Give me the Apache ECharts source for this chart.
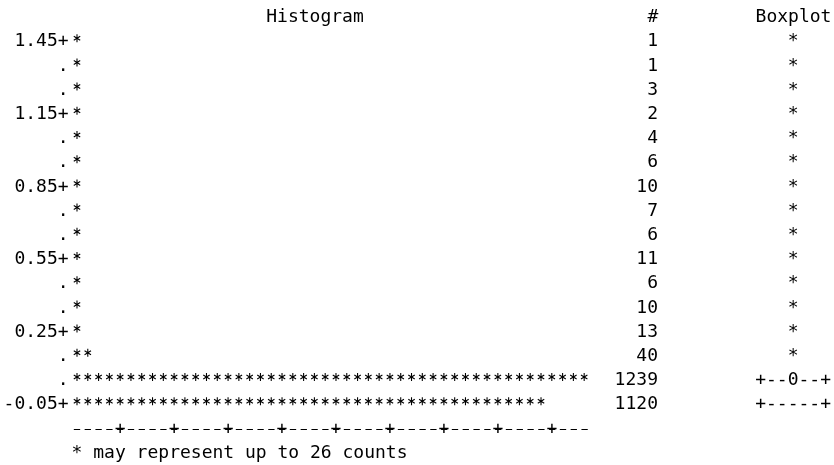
<!DOCTYPE html>
<html>
<head>
<meta charset="utf-8">
<script src="https://cdn.jsdelivr.net/npm/echarts@6/dist/echarts.min.js"></script>
<style>
html,body{margin:0;padding:0;background:#fff;}
#chart{width:834px;height:465px;}
</style>
</head>
<body>
<div id="chart"></div>
<script>
// bin midpoints, top row first
const bins = ['1.45','1.35','1.25','1.15','1.05','0.95','0.85','0.75','0.65','0.55','0.45','0.35','0.25','0.15','0.05','-0.05']
const binLabels = ['1.45+','.','.','1.15+','.','.','0.85+','.','.','0.55+','.','.','0.25+','.','.','-0.05+']
const counts = [1,1,3,2,4,6,10,7,6,11,6,10,13,40,1239,1120]
const boxMarks = ['*','*','*','*','*','*','*','*','*','*','*','*','*','*','+--0--+','+-----+']
const perStar = 26      // one * stands for up to 26 counts
const starCols = 48     // histogram width in * columns
const plusCols = [5,10,15,20,25,30,35,40,45]  // where the axis row has a +

const FONT = 'DejaVu Sans Mono'
const FS = 18
const txt = {fontFamily:FONT, fontSize:FS, color:'#000'}

// filled six-spoke asterisk as one polygon
function asterisk(R, w){
  const c = 5, d = a => [Math.cos(a*Math.PI/180), Math.sin(a*Math.PI/180)]
  let pts = []
  for(let k=0;k<6;k++){
    const t = -90 + 60*k
    const [ix,iy] = d(t-30), [dx,dy] = d(t), [ax,ay] = d(t-90), [bx,by] = d(t+90)
    pts.push([c+2*w*ix, c+2*w*iy])
    pts.push([c+R*dx+w*ax, c+R*dy+w*ay])
    pts.push([c+R*dx+w*bx, c+R*dy+w*by])
  }
  return 'path://M' + pts.map(p => p[0].toFixed(3)+','+p[1].toFixed(3)).join('L') + 'Z'
}
const star = asterisk(5, 0.72)

const chart = echarts.init(document.getElementById('chart'))

const option = {
  animation:false,
  grid:{left:71.6, right:244, top:29.6, height:387.2},
  xAxis:{
    type:'value',
    min:0,
    max:starCols*perStar,
    offset:12.2,
    splitLine:{show:false},
    axisTick:{show:false},
    axisLine:{
      show:true,
      lineStyle:{color:'#000', width:1.2, type:[5.4,5.4], dashOffset:8.1}
    },
    axisLabel:{
      ...txt,
      customValues: plusCols.map(c => (c-0.5)*perStar),
      formatter:() => '+',
      verticalAlign:'middle',
      margin:0
    }
  },
  yAxis:[{
    type:'category',
    data:bins,
    inverse:true,
    axisLine:{show:false},
    axisTick:{show:false},
    axisLabel:{...txt, margin:3, formatter:(v,i) => binLabels[i]}
  },{
    // # column
    type:'category',
    position:'right',
    data:bins,
    inverse:true,
    axisLine:{show:false},
    axisTick:{show:false},
    axisLabel:{...txt, margin:68.4, align:'right', formatter:(v,i) => String(counts[i])}
  },{
    // text boxplot column
    type:'category',
    position:'right',
    data:bins,
    inverse:true,
    axisLine:{show:false},
    axisTick:{show:false},
    axisLabel:{...txt, margin:203.5, align:'center', formatter:(v,i) => boxMarks[i]}
  }],
  graphic:[
    {type:'text', style:{text:'Histogram', x:315, y:17.5, align:'center', verticalAlign:'middle', font:FS+'px "'+FONT+'"', fill:'#000'}},
    {type:'text', style:{text:'#', x:658.4, y:17.5, align:'right', verticalAlign:'middle', font:FS+'px "'+FONT+'"', fill:'#000'}},
    {type:'text', style:{text:'Boxplot', x:793.5, y:17.5, align:'center', verticalAlign:'middle', font:FS+'px "'+FONT+'"', fill:'#000'}},
    {type:'text', style:{text:'* may represent up to '+perStar+' counts', x:71.6, y:453, align:'left', verticalAlign:'middle', font:FS+'px "'+FONT+'"', fill:'#000'}}
  ],
  series:[{
    type:'pictorialBar',
    data:counts,
    silent:true,
    symbol:star,
    symbolRepeat:true,
    symbolSize:[7,8],
    symbolMargin:'1.9!',
    symbolBoundingData:starCols*perStar,
    symbolOffset:[0,-3.5],
    itemStyle:{color:'#000'}
  }]
}

chart.setOption(option)
</script>
</body>
</html>
